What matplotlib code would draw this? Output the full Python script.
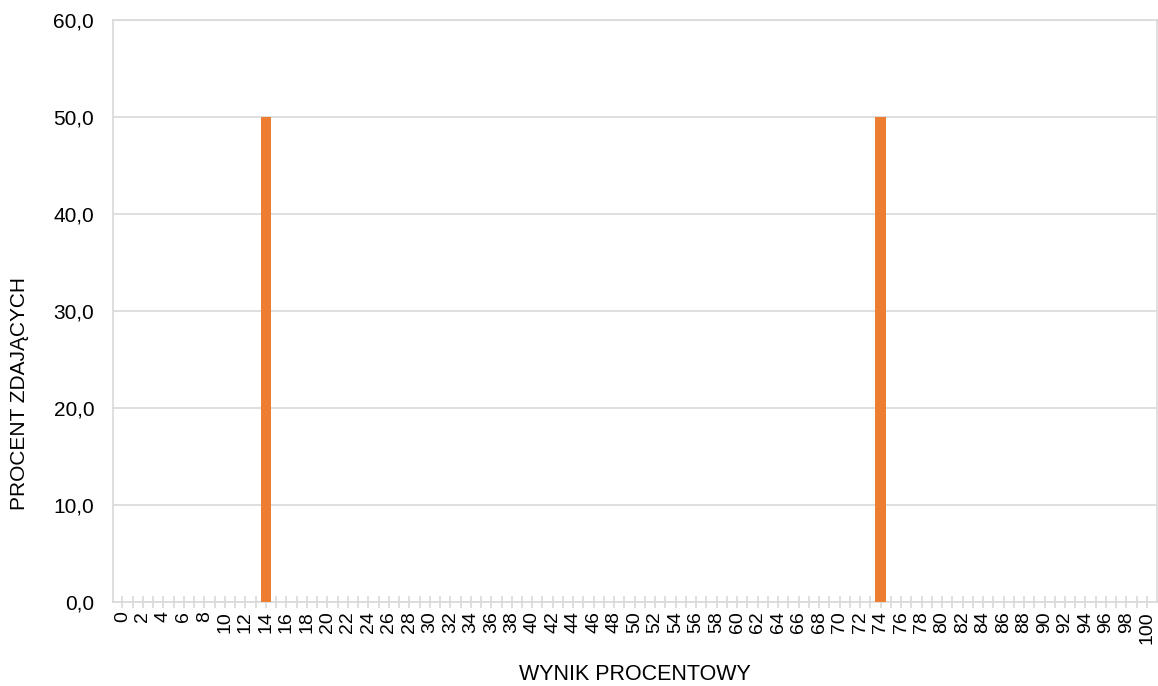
import matplotlib
matplotlib.use("Agg")
import matplotlib.pyplot as plt
from matplotlib.ticker import FuncFormatter, MultipleLocator

plt.rcParams['font.family'] = ['Liberation Sans', 'DejaVu Sans']

categories = list(range(0, 101))
values = [0.0] * 101
values[14] = 50.0
values[74] = 50.0
tick_labels = [str(c) for c in categories[::2]]

bar_color = '#ED7D31'
grid_color = '#D9D9D9'

fig = plt.figure(figsize=(11.58, 6.86), dpi=100)
ax = fig.add_axes([113/1158, 84/686, 1044/1158, 582/686])

x = list(range(len(categories)))
ax.bar(x, values, width=1.0, color=bar_color, zorder=3)

ax.set_xlim(-0.92, 100.98)
ax.set_ylim(0, 60)
ax.yaxis.set_major_locator(MultipleLocator(10))
ax.yaxis.set_major_formatter(FuncFormatter(lambda v, p: f"{v:.1f}".replace('.', ',')))
ax.grid(axis='y', color=grid_color, linewidth=1.2, zorder=0)

ax.set_xticks(x[::2])
ax.set_xticklabels(tick_labels, rotation=90, fontsize=14)
ax.set_xticks(x, minor=True)
ax.tick_params(axis='x', which='both', direction='inout', length=9, width=1.2,
               color=grid_color, pad=2)
ax.tick_params(axis='y', length=0, labelsize=15, pad=13.5)

for s in ax.spines.values():
    s.set_color(grid_color)
    s.set_linewidth(1.2)

ax.set_xlabel('WYNIK PROCENTOWY', fontsize=15.5, va='center')
ax.xaxis.set_label_coords(0.5, (686 - 675 - 84) / 582)
ax.set_ylabel('PROCENT ZDAJĄCYCH', fontsize=15, va='center')
ax.yaxis.set_label_coords((20 - 113) / 1044, (686 - 394 - 84) / 582)

fig.savefig('out.png', dpi=100)
